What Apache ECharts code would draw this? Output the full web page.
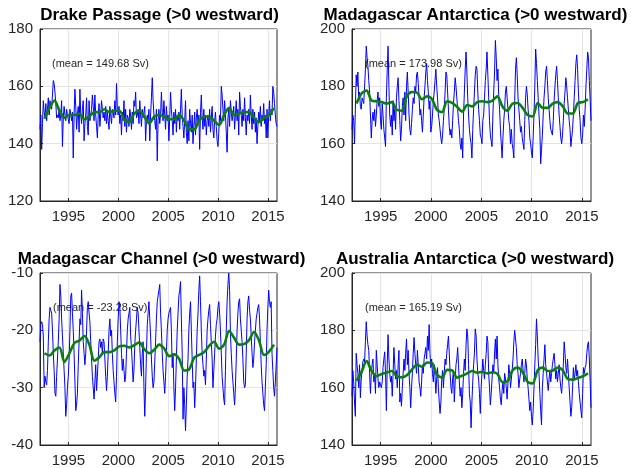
<!DOCTYPE html>
<html>
<head>
<meta charset="utf-8">
<script src="https://cdn.jsdelivr.net/npm/echarts@6/dist/echarts.min.js"></script>
<style>
html,body{margin:0;padding:0;background:#fff;}
#chart{width:631px;height:468px;}
</style>
</head>
<body>
<div id="chart"></div>
<script>
// ---- time base (monthly series and 6-monthly smoothed curve) ----
const startYear = 1992.15;
const monthStep = 1 / 12;
const smoothStart = 1992.6;
const smoothStep = 0.5;
const yearTicks = [1995, 2000, 2005, 2010, 2015];

const panelTitles = [
  'Drake Passage (>0 westward)',
  'Madagascar Antarctica (>0 westward)',
  'Madagascar Channel (>0 westward)',
  'Australia Antarctica (>0 westward)'
];
const meanLabels = [
  '(mean = 149.68 Sv)',
  '(mean = 173.98 Sv)',
  '(mean = -23.28 Sv)',
  '(mean = 165.19 Sv)'
];
const yMins = [120, 140, -40, 140];
const yMaxs = [180, 200, -10, 200];
const yIntervals = [20, 20, 10, 20];

// ---- Drake Passage monthly transport (Sv) ----
const drakeMonthly = [
  145,150,138,147,155,151,149,154,148,152,
  156,150,155,153,152,157,162,161,158,154,149,150,
  149,152,148,150,155,139,149,153,150,148,152,150,
  150,147,152,150,148,151,135,150,159,153,145,150,
  153,144,159,150,147,152,155,141,147,150,156,146,
  143,155,148,150,152,157,153,148,157,150,146,142,
  150,154,146,150,155,152,149,151,148,153,147,151,
  148,145,153,150,147,152,151,149,155,150,161,152,
  150,153,147,150,143,151,148,155,146,152,144,150,
  149,146,152,150,145,151,147,155,153,158,149,150,
  152,147,155,150,146,152,149,151,153,141,148,150,
  148,152,141,150,156,163,155,150,148,145,152,134,
  148,152,147,150,158,151,148,155,150,145,153,148,
  150,141,149,158,152,148,143,151,147,152,144,150,
  148,151,145,152,159,150,146,142,148,155,144,140,
  148,141,152,147,144,150,140,146,151,143,149,152,
  147,150,138,151,157,149,145,152,146,150,143,148,
  150,146,152,144,149,153,145,142,148,151,146,141,
  139,144,150,148,160,157,152,148,155,150,144,137,
  149,152,146,155,151,148,150,153,145,150,155,148,
  152,143,158,153,150,146,152,148,156,149,143,150,
  148,152,147,157,150,145,152,147,151,144,149,140,
  146,151,148,153,146,150,148,154,147,150,142,152,
  142,150,155,148,152,150,160,158,154,150,147,146
];
const drakeSmooth = [
  148.7,152.5,155,151.5,149,150,150,150.5,148.5,149.5,151,151,152,151,151.5,151.5,
  148.5,147.5,150.5,151.5,149.5,147,149.5,150,149.5,148.5,148.5,150,148,145,145,148,
  149.5,149.5,148,146.5,150,152.5,150,150.5,151,151,149,147.5,149,150,152.5
];

// ---- Madagascar - Antarctica monthly transport (Sv) ----
const madAntMonthly = [
  165,170,168,160,172,184,180,185,176,178,
  173,172,176,175,174,180,186,194,190,187,182,178,
  170,162,168,171,168,172,166,170,175,178,173,176,
  168,165,174,170,165,162,159,176,186,194,180,170,
  166,170,163,175,168,172,165,176,180,183,175,168,
  161,165,173,176,170,178,168,180,185,178,170,165,
  163,167,172,176,174,180,178,184,185,181,176,170,
  172,168,164,170,176,180,185,188,182,178,172,175,
  164,166,170,175,178,182,186,180,176,170,168,165,
  162,160,163,168,172,178,185,184,178,172,166,163,
  165,162,168,174,178,183,180,176,172,168,165,160,
  158,162,155,170,178,186,192,185,176,170,165,162,
  160,155,165,172,178,184,187,186,178,172,168,163,
  162,160,168,170,176,182,186,192,184,176,168,163,
  161,159,170,178,185,196,190,182,186,176,172,165,
  160,155,162,168,172,178,180,176,172,168,166,160,
  165,160,158,155,175,186,190,184,176,172,168,164,
  166,162,160,158,168,176,180,177,172,168,162,160,
  157,155,162,170,180,193,188,182,176,170,165,153,
  158,163,170,176,180,185,187,182,176,172,168,165,
  165,163,168,175,180,184,187,182,176,170,166,162,
  160,163,168,174,178,183,180,176,172,168,165,159,
  162,165,170,176,182,188,191,186,178,172,168,162,
  160,163,170,166,172,180,186,192,190,182,175,168
];
const madAntSmooth = [
  174,177.5,178.5,175,174.8,174.5,174,174.5,171.8,171.5,176.5,178,177.8,175.5,176.5,175.5,
  171.8,171,174.8,174.2,172.8,171.2,173.5,173,174.5,174.8,174.5,175,176.5,173,171.5,174,
  174.2,172.5,170,169.5,174.2,172.5,172.5,174,174.5,173,170.5,170.5,174.2,174.5,175.5
];

// ---- Madagascar Channel monthly transport (Sv) ----
const madChanMonthly = [
  -22,-19,-18.5,-19,-21,-30,-28,-29,-29.5,-27,
  -22,-18,-16,-16.5,-17,-20,-24,-27,-31,-31.5,-28,-25,
  -22,-18,-12,-14,-18,-21,-24,-27,-30,-35,-33,-30,
  -28,-25,-20,-14,-13.5,-17,-20,-24,-29,-34,-33,-31,
  -26,-22,-18,-19,-13,-17,-22,-24,-26,-24,-20,-16,
  -15,-17,-18.5,-22,-25,-28,-30,-32,-29,-26,-30.5,-28,
  -25,-22,-21.5,-23,-22,-24,-21.5,-22,-25,-28,-30.5,-28,
  -24,-20,-18,-21,-20,-24,-27,-29,-31,-32.5,-28,-22,
  -18,-15,-16,-20,-24,-27,-25,-27,-29,-28,-24,-20,
  -18,-17,-16,-21,-23,-26,-29,-27,-22.5,-20,-18,-16,
  -17,-20,-23,-26,-28,-24,-22,-30,-35,-30,-24,-19,
  -17,-15,-18,-21,-25,-28,-30,-29,-29,-22,-18,-15,
  -14,-13,-12,-17,-20,-24,-27,-29,-31,-28,-24,-20,
  -18,-17,-16.5,-16,-20,-26.5,-24,-30,-34,-30,-25,-20,
  -17,-14,-13,-11.5,-18,-24,-35.5,-30,-33,-37.5,-33,-28,
  -25,-20,-17,-15,-20,-25,-30,-29,-33.5,-30,-25,-20,
  -17,-13,-10.5,-15,-20,-24,-26,-28,-27,-29.5,-25,-20,
  -18,-16.5,-15.5,-19,-22,-25,-30,-27,-24,-21,-19,-18,
  -16,-15,-17,-20,-24,-28,-30,-32,-33,-27,-20,-15,
  -12,-10,-13,-20.5,-24,-27,-29,-31,-33,-30,-25,-20,
  -17,-15,-14.5,-18,-20,-22,-25,-29,-30,-29.5,-24,-18,
  -15,-14,-16.5,-18,-21,-24,-26.5,-25,-22,-20,-18,-17,
  -16,-15.5,-18,-22,-26,-29,-31,-33,-34,-30,-26,-20,
  -16,-13,-15,-16,-15,-24,-27,-30,-31.5,-29,-26,-23
];
const madChanSmooth = [
  -24,-24.4,-23.5,-23,-25.5,-24,-22.2,-21.8,-21,-22.5,-25.3,-24.7,-23.8,-23.8,-23.5,-22.8,
  -22.7,-23,-22.6,-22.1,-23.3,-24,-23.4,-22.5,-23.2,-24.5,-24.2,-25,-27,-26.8,-24.8,-24.3,
  -23.8,-22.7,-22,-23.2,-22.5,-20.1,-21.3,-22.5,-22.4,-21.7,-20.3,-21.8,-24.3,-23.7,-22.5
];

// ---- Australia - Antarctica monthly transport (Sv) ----
const ausAntMonthly = [
  157,166,162,155,150,172,168,165,160,168,
  156.5,163,166,169,170,169,176,183,178,175,173,165,
  158,165,168,170,162,165,158,173,168,163,160,162,
  161,160,162,167,170,172.5,165,152,168,178.5,170,165,
  162,164,157,165,174,168,163,166,160,168,173,155,
  158,153.5,160,165,170,166,172,177,168,173,165,160,
  153,160,165,172,177.5,172,168,165,173,168,162,160,
  157,162,168,165,170,172,174,170,178,173,182,172,
  167,170,165,162,168,164,158,163,167,160,155,151,
  155,163,166,160,165,170,168,172,175,178,172,165,
  160,158,163,166,155,162,168,170,174,168,162,157,
  160,153,158,165,170,166,175,180.5,178,168,158,155,
  146,155,162,168,172,180.5,178,170,165,163,158,151,
  160,165,170,166,163,168,172,178,176,165,160,154,
  158,163,168,165,172,177,170,178,168,163,160,156,
  154,159,162,158,165,163,160,156,162,168,165,160,
  163,166,170,176,180,177,174,168,165,160,163,165,
  168,170,166,162,165,170,168,163,160,156,152,155,
  150,147,152,160,168,175,184,178,170,165,158,152,
  147,160,165,170,175,168,165,162,159,163,166,162,
  165,168,170,172,168,163,166,162,165,168,163,160,
  158,163,168,176,172,167,165,170,165,160,155,150,
  153,160,167,163,165,168,164,166,162,158,155,152,
  149.5,158,167,165,167,168,172,175,176,170,162,153
];
const ausAntSmooth = [
  162.4,165.5,169.3,165.8,164,164.8,165.3,165.8,164,163.6,164.3,166.3,168,167.3,168.8,168.6,
  164.5,163.5,166.2,166,163.5,164.2,165,165.8,165.2,165.5,165,165.4,164.8,162,162.3,166,
  167,165.5,162,161.5,166,167,165.8,166,167,166,163,162.8,163.4,164,165
];

const monthlySets = [drakeMonthly, madAntMonthly, madChanMonthly, ausAntMonthly];
const smoothSets = [drakeSmooth, madAntSmooth, madChanSmooth, ausAntSmooth];

function toSeriesData(values, t0, dt) {
  return values.map((v, i) => [t0 + i * dt, v]);
}

// ---- layout ----
const grids = [
  {left: 40, top: 29, width: 237, height: 172},
  {left: 352, top: 29, width: 239, height: 172},
  {left: 40, top: 273, width: 237, height: 172},
  {left: 352, top: 273, width: 239, height: 172}
];
const titlePos = [[159.5, 15], [475.5, 15], [161.5, 259], [475, 259]];
const meanPos = [[52, 64], [365, 64], [53, 308], [365, 308]];

const FONT = '"Liberation Sans", Arial, Helvetica, sans-serif';
const AXIS_COLOR = '#262626';
const GRID_COLOR = '#e4e4e4';

const xMaxVal = startYear + (drakeMonthly.length - 1) * monthStep;

const option = {
  animation: false,
  backgroundColor: '#ffffff',
  grid: grids.map(g => Object.assign({show: true, borderColor: AXIS_COLOR, borderWidth: 1, backgroundColor: '#ffffff', containLabel: false}, g)),
  xAxis: grids.map((g, i) => ({
    gridIndex: i,
    type: 'value',
    min: startYear,
    max: xMaxVal,
    axisLine: {show: true, lineStyle: {color: AXIS_COLOR, width: 1}},
    axisTick: {show: true, inside: true, length: 3, customValues: yearTicks, lineStyle: {color: AXIS_COLOR}},
    axisLabel: {show: true, customValues: yearTicks, fontSize: 15, color: AXIS_COLOR, fontFamily: FONT, margin: 8, formatter: v => String(Math.round(v))},
    splitLine: {show: true, lineStyle: {color: GRID_COLOR, width: 1}}
  })),
  yAxis: grids.map((g, i) => ({
    gridIndex: i,
    type: 'value',
    min: yMins[i],
    max: yMaxs[i],
    interval: yIntervals[i],
    axisLine: {show: true, lineStyle: {color: AXIS_COLOR, width: 1}},
    axisTick: {show: true, inside: true, length: 3, lineStyle: {color: AXIS_COLOR}},
    axisLabel: {show: true, fontSize: 15, color: AXIS_COLOR, fontFamily: FONT, margin: 7},
    splitLine: {show: true, lineStyle: {color: GRID_COLOR, width: 1}}
  })),
  series: [],
  graphic: []
};

for (let i = 0; i < 4; i++) {
  option.series.push({
    type: 'line',
    xAxisIndex: i,
    yAxisIndex: i,
    data: toSeriesData(monthlySets[i], startYear, monthStep),
    symbol: 'none',
    showSymbol: false,
    lineStyle: {color: '#0000ff', width: 1},
    z: 3
  });
  option.series.push({
    type: 'line',
    xAxisIndex: i,
    yAxisIndex: i,
    data: toSeriesData(smoothSets[i], smoothStart, smoothStep),
    symbol: 'none',
    showSymbol: false,
    smooth: 0.3,
    lineStyle: {color: '#0a7f0a', width: 2.6},
    z: 4
  });
  option.graphic.push({
    type: 'text',
    z: 10,
    style: {
      text: panelTitles[i],
      x: titlePos[i][0],
      y: titlePos[i][1],
      textAlign: 'center',
      textVerticalAlign: 'middle',
      font: 'bold 17px ' + FONT,
      fill: '#000000'
    }
  });
  option.graphic.push({
    type: 'text',
    z: 1,
    style: {
      text: meanLabels[i],
      x: meanPos[i][0],
      y: meanPos[i][1],
      textAlign: 'left',
      textVerticalAlign: 'middle',
      font: '11px ' + FONT,
      fill: '#262626'
    }
  });
}

const chart = echarts.init(document.getElementById('chart'), null, {renderer: 'canvas'});
chart.setOption(option);
</script>
</body>
</html>
